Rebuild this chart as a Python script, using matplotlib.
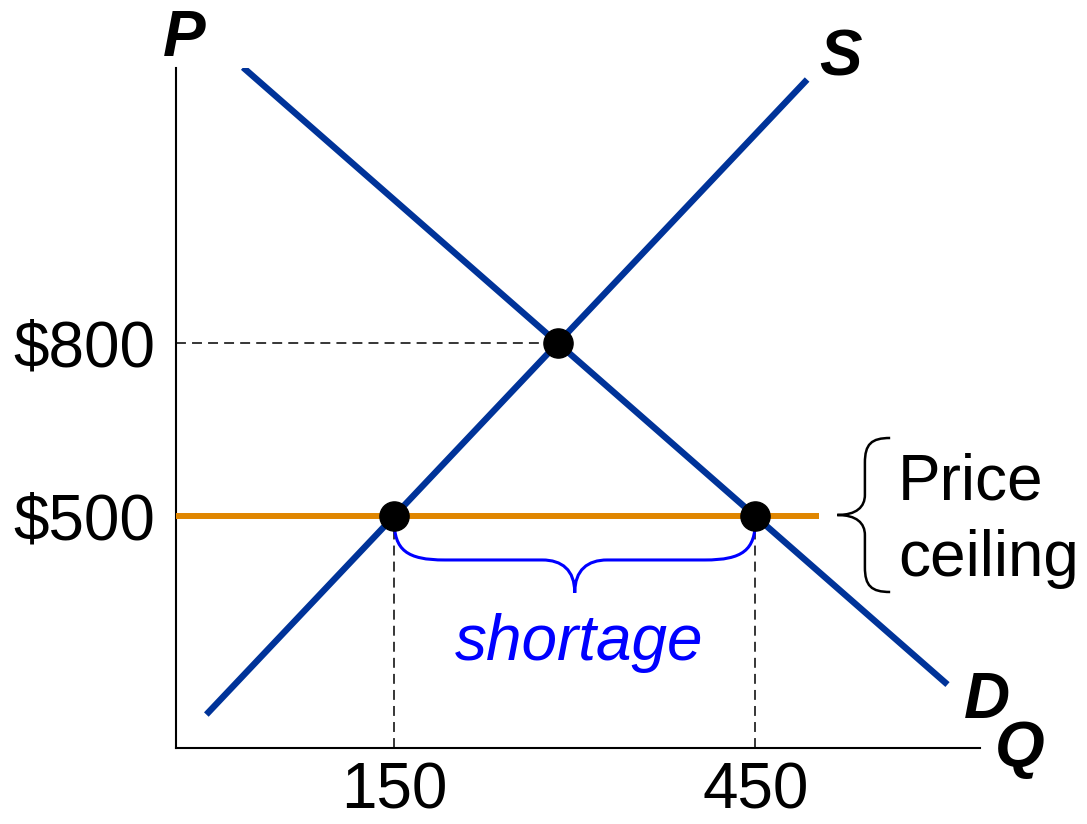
import matplotlib
matplotlib.use('agg')
import matplotlib.pyplot as plt
from matplotlib.path import Path
from matplotlib.patches import PathPatch

plt.rcParams['font.family'] = ['Liberation Sans', 'DejaVu Sans']

# supply and demand lines (Q, P end points)
supply_q = [-6, 493]
supply_p = [156, 1257]
demand_q = [24.5, 609.6]
demand_p = [1278, 208]

# equilibrium and price ceiling
eq_q, eq_p = 286, 800
ceiling_p = 500
ceiling_q_end = 502.5
qs_ceiling = 150   # quantity supplied at the ceiling
qd_ceiling = 450   # quantity demanded at the ceiling

x_ticks = [150, 450]
x_labels = ['150', '450']
y_ticks = [500, 800]
y_labels = ['$500', '$800']

blue = '#003399'
orange = '#E08600'


def brace_path(length, a, b, r1, r2, to_data):
    """Curly brace in local (u along, v depth) coords, mapped to data."""
    L = length
    m = L / 2
    pts = [(0, 0),
           (0, 0.75 * a), (0.25 * r1, a), (r1, a),
           (m - r2, a),
           (m - 0.4 * r2, a), (m, a + 0.3 * (b - a)), (m, b),
           (m, a + 0.3 * (b - a)), (m + 0.4 * r2, a), (m + r2, a),
           (L - r1, a),
           (L - 0.25 * r1, a), (L, 0.75 * a), (L, 0)]
    codes = [Path.MOVETO,
             Path.CURVE4, Path.CURVE4, Path.CURVE4,
             Path.LINETO,
             Path.CURVE4, Path.CURVE4, Path.CURVE4,
             Path.CURVE4, Path.CURVE4, Path.CURVE4,
             Path.LINETO,
             Path.CURVE4, Path.CURVE4, Path.CURVE4]
    return Path([to_data(u, v) for u, v in pts], codes)


fig = plt.figure(figsize=(10.87, 8.24), dpi=100)
ax = fig.add_axes([176 / 1087, 76 / 824, 804 / 1087, 680 / 824])
ax.set_xlim(-31.2, 636.6)
ax.set_ylim(98, 1277)

for side in ['top', 'right']:
    ax.spines[side].set_visible(False)
for side in ['left', 'bottom']:
    ax.spines[side].set_linewidth(1.5)

ax.set_xticks(x_ticks, x_labels)
ax.set_yticks(y_ticks, y_labels)
ax.tick_params(axis='both', length=0, labelsize=46)
ax.tick_params(axis='y', pad=15)
ax.tick_params(axis='x', pad=10)

# dashed guide lines
dash = (0, (6.5, 4))
ax.plot([-31.2, eq_q], [eq_p, eq_p], color='black', lw=1.1, ls=dash, zorder=1)
for q in [qs_ceiling, qd_ceiling]:
    ax.plot([q, q], [98, ceiling_p], color='black', lw=1.1, ls=dash, zorder=1)

ax.plot(supply_q, supply_p, color=blue, lw=4.6, solid_capstyle='butt', zorder=2)
ax.plot(demand_q, demand_p, color=blue, lw=4.6, solid_capstyle='butt', zorder=2)
ax.plot([-31.2, ceiling_q_end], [ceiling_p, ceiling_p], color=orange, lw=4.3,
        solid_capstyle='butt', zorder=3)

ax.plot([eq_q, qs_ceiling, qd_ceiling], [eq_p, ceiling_p, ceiling_p], 'o',
        color='black', ms=21, zorder=5, clip_on=False)

# shortage brace
short = brace_path(qd_ceiling - qs_ceiling, 69, 126, 42, 27,
                   lambda u, v: (qs_ceiling + u, 493 - v))
ax.add_patch(PathPatch(short, fill=False, edgecolor='#0000FF', lw=2.2, zorder=4,
                       clip_on=False))
ax.text((qs_ceiling + qd_ceiling) / 2 + 4, 251, 'shortage', color='#0000FF',
        fontsize=46, style='italic', ha='center', va='baseline')

# price ceiling brace
pc = brace_path(267, 21, 44, 43, 35, lambda u, v: (562 - v, 635.5 - u))
ax.add_patch(PathPatch(pc, fill=False, edgecolor='black', lw=1.8, zorder=4,
                       clip_on=False))
fig.text(898 / 1087, 1 - 500 / 824, 'Price', fontsize=46, ha='left', va='baseline')
fig.text(898 / 1087, 1 - 576 / 824, 'ceiling', fontsize=46, ha='left', va='baseline')

# axis and curve labels
lab = dict(fontsize=46, fontweight='bold', style='italic', va='baseline', ha='center')
fig.text(184 / 1087, 1 - 56 / 824, 'P', **lab)
fig.text(841 / 1087, 1 - 75 / 824, 'S', **lab)
fig.text(987 / 1087, 1 - 718 / 824, 'D', **lab)
fig.text(1020 / 1087, 1 - 767 / 824, 'Q', **lab)

fig.savefig('out.png', dpi=100)
